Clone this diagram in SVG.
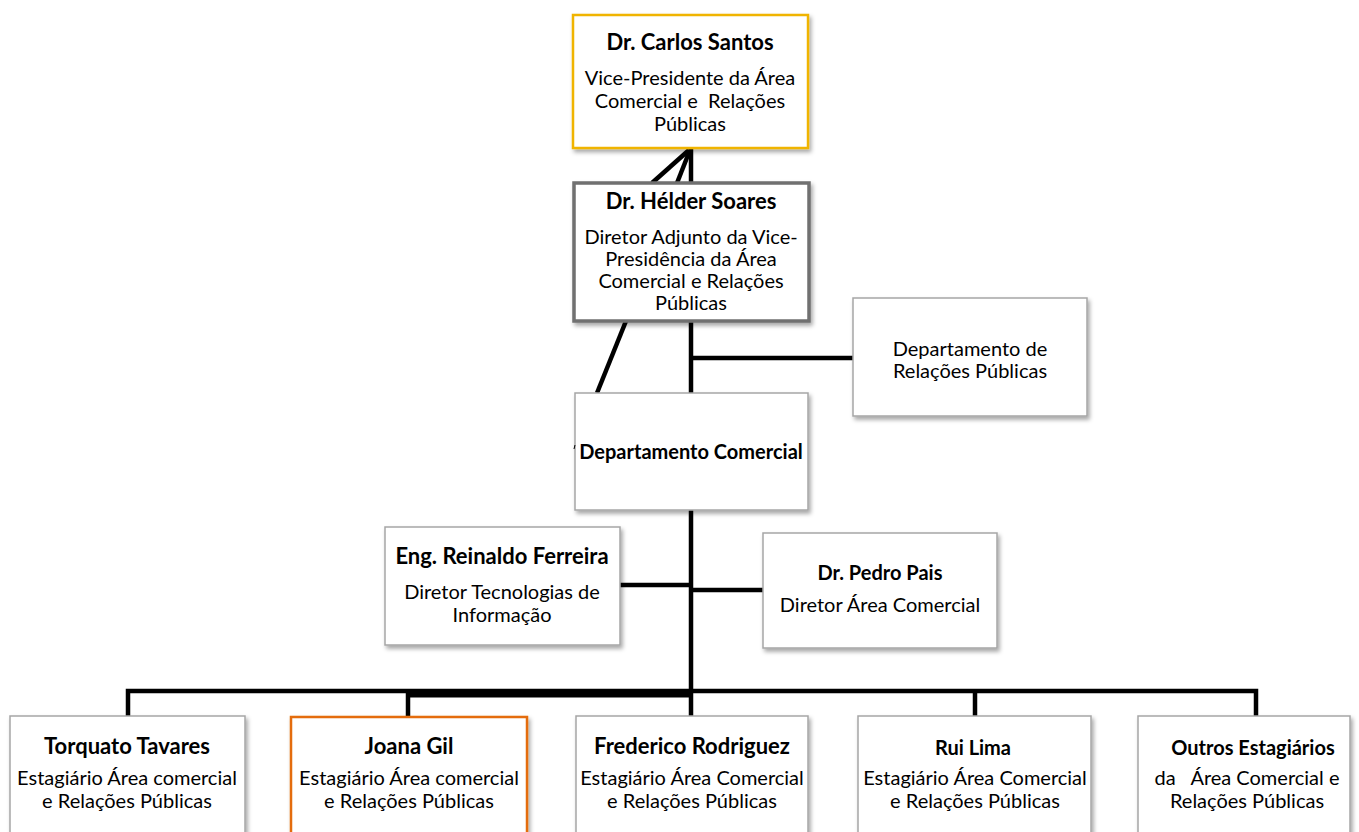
<svg xmlns="http://www.w3.org/2000/svg" width="1359" height="832" viewBox="0 0 1359 832">
  <defs>
    <filter id="shadow" x="-10%" y="-10%" width="125%" height="130%">
      <feDropShadow dx="2" dy="3" stdDeviation="2" flood-color="#000" flood-opacity="0.35"/>
    </filter>
  </defs>
  <style>
    .box { fill: #ffffff; stroke: #a6a6a6; stroke-width: 1.5; filter: url(#shadow); }
    .gold { stroke: #f0b400; stroke-width: 2.5; }
    .grey { stroke: #6f6f6f; stroke-width: 3.5; }
    .orange { stroke: #e46c0a; stroke-width: 2.5; }
    .name { font-family: Lato, "Liberation Sans", sans-serif; font-weight: bold; font-size: 22px; fill: #000; text-anchor: middle; }
    .name-s { font-size: 20px; }
    .role { font-family: Lato, "Liberation Sans", sans-serif; font-size: 20px; fill: #000; text-anchor: middle; }
    .wire { stroke: #000; stroke-width: 4.5; fill: none; }
  </style>

  <!-- connectors -->
  <g id="connectors">
    <line class="wire" x1="691" y1="148" x2="691" y2="183"/>
    <line class="wire" x1="677" y1="183" x2="690" y2="150"/>
    <line class="wire" x1="652" y1="183" x2="689" y2="150"/>
    <line class="wire" x1="626" y1="321" x2="597" y2="393"/>
    <line class="wire" x1="691" y1="321" x2="691" y2="393"/>
    <line class="wire" x1="691" y1="358" x2="853" y2="358"/>
    <line class="wire" x1="691" y1="510" x2="691" y2="716"/>
    <line class="wire" x1="620" y1="585" x2="691" y2="585"/>
    <line class="wire" x1="691" y1="590" x2="763" y2="590"/>
    <polyline class="wire" points="128,716 128,691 1256,691 1256,716"/>
    <line class="wire" x1="408" y1="694" x2="691" y2="694" style="stroke-width:7"/>
    <line class="wire" x1="408" y1="691" x2="408" y2="716"/>
    <line class="wire" x1="975" y1="691" x2="975" y2="716"/>
  </g>

  <g id="carlos-santos">
    <rect class="box gold" x="573" y="15" width="235" height="133"/>
    <text class="name" x="690" y="50">Dr. Carlos Santos</text>
    <text class="role" x="690" y="85">Vice-Presidente da Área</text>
    <text class="role" x="690" y="108" xml:space="preserve">Comercial e  Relações</text>
    <text class="role" x="690" y="131">Públicas</text>
  </g>

  <g id="helder-soares">
    <rect class="box grey" x="574" y="183" width="235" height="138"/>
    <text class="name" x="691" y="209">Dr. Hélder Soares</text>
    <text class="role" x="691" y="244">Diretor Adjunto da Vice-</text>
    <text class="role" x="691" y="266">Presidência da Área</text>
    <text class="role" x="691" y="288">Comercial e Relações</text>
    <text class="role" x="691" y="310">Públicas</text>
  </g>

  <g id="dep-relacoes-publicas">
    <rect class="box" x="853" y="298" width="234" height="118"/>
    <text class="role" x="970" y="356">Departamento de</text>
    <text class="role" x="970" y="378">Relações Públicas</text>
  </g>

  <g id="dep-comercial">
    <rect class="box" x="575" y="393" width="233" height="117"/>
    <line x1="575" y1="445" x2="574" y2="449" stroke="#000" stroke-width="1"/>
    <text class="name name-s" x="691" y="459">Departamento Comercial</text>
  </g>

  <g id="reinaldo-ferreira">
    <rect class="box" x="385" y="527" width="235" height="118"/>
    <text class="name" x="502" y="564">Eng. Reinaldo Ferreira</text>
    <text class="role" x="502" y="599">Diretor Tecnologias de</text>
    <text class="role" x="502" y="622">Informação</text>
  </g>

  <g id="pedro-pais">
    <rect class="box" x="763" y="533" width="234" height="115"/>
    <text class="name name-s" x="880" y="580">Dr. Pedro Pais</text>
    <text class="role" x="880" y="612">Diretor Área Comercial</text>
  </g>

  <g id="torquato-tavares">
    <rect class="box" x="10" y="716" width="235" height="124"/>
    <text class="name" x="127" y="754">Torquato Tavares</text>
    <text class="role" x="127" y="785">Estagiário Área comercial</text>
    <text class="role" x="127" y="808">e Relações Públicas</text>
  </g>

  <g id="joana-gil">
    <rect class="box orange" x="291" y="717" width="236" height="124"/>
    <text class="name" x="409" y="754">Joana Gil</text>
    <text class="role" x="409" y="785">Estagiário Área comercial</text>
    <text class="role" x="409" y="808">e Relações Públicas</text>
  </g>

  <g id="frederico-rodriguez">
    <rect class="box" x="576" y="716" width="232" height="124"/>
    <text class="name" x="692" y="754">Frederico Rodriguez</text>
    <text class="role" x="692" y="785">Estagiário Área Comercial</text>
    <text class="role" x="692" y="808">e Relações Públicas</text>
  </g>

  <g id="rui-lima">
    <rect class="box" x="858" y="716" width="233" height="124"/>
    <text class="name name-s" x="973" y="755">Rui Lima</text>
    <text class="role" x="975" y="785">Estagiário Área Comercial</text>
    <text class="role" x="975" y="808">e Relações Públicas</text>
  </g>

  <g id="outros-estagiarios">
    <rect class="box" x="1138" y="716" width="212" height="124"/>
    <text class="name name-s" x="1253" y="755">Outros Estagiários</text>
    <text class="role" x="1247" y="785" xml:space="preserve">da   Área Comercial e</text>
    <text class="role" x="1247" y="808">Relações Públicas</text>
  </g>
</svg>
